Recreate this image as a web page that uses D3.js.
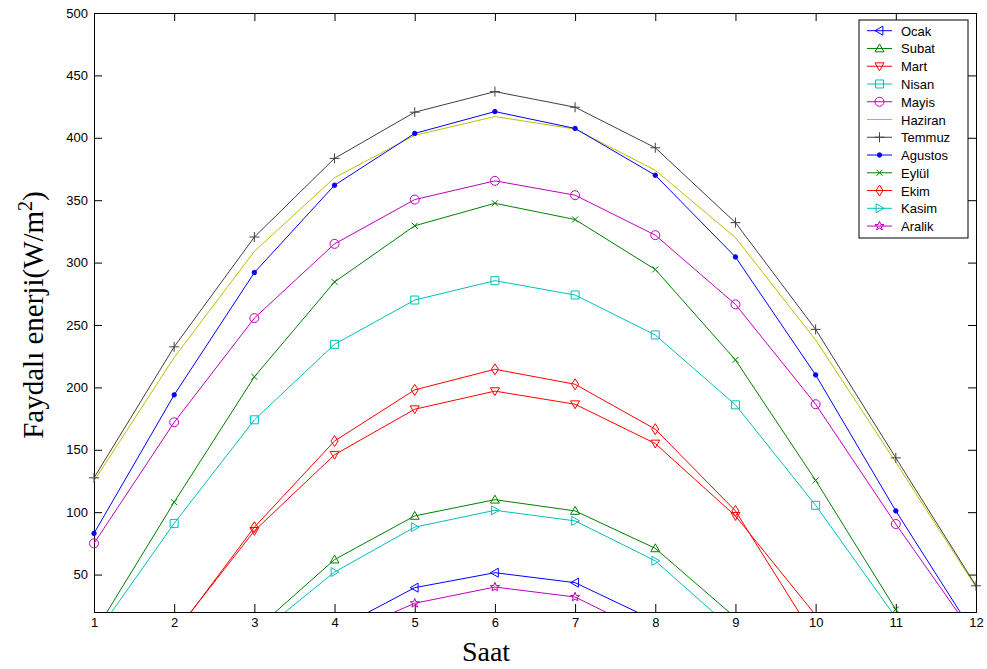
<!DOCTYPE html>
<html>
<head>
<meta charset="utf-8">
<script src="https://cdnjs.cloudflare.com/ajax/libs/d3/7.8.5/d3.min.js"></script>
<style>
  body { margin: 0; background: #fff; }
  svg { display: block; }
  .tick text { font-family: "Liberation Sans", Arial, sans-serif; font-size: 13px; fill: #000; }
</style>
</head>
<body>
<svg id="chart"></svg>
<script>
// 横轴：小时
const hours = [1, 2, 3, 4, 5, 6, 7, 8, 9, 10, 11, 12];
const xTicks = [1, 2, 3, 4, 5, 6, 7, 8, 9, 10, 11, 12];
const yTicks = [50, 100, 150, 200, 250, 300, 350, 400, 450, 500];

// 每个月的数值 (null = 远在坐标轴下方)
const ocak    = [null, null, null, 5.5, 39.5, 51.5, 43.5, 13, null, null, null, null];
const subat   = [null, null, 5, 62, 97, 110, 101, 71, 15.5, null, null, null];
const mart    = [null, 3, 85, 146, 182.5, 197, 186.5, 155, 97, 17.5, null, null];
const nisan   = [0, 91, 174, 234.5, 270, 285.5, 274, 242, 186, 105.5, 15.5, null];
const mayis   = [75, 172, 255.5, 315, 350.5, 365.5, 354, 322, 266.5, 186.5, 90.5, -1];
const haziran = [125, 224, 309, 368, 402, 417, 407, 374, 320, 238, 140, 40];
const temmuz  = [127.5, 232.5, 320.5, 383.5, 420.5, 437, 424.5, 392, 332, 246.5, 143.5, 41];
const agustos = [83, 194, 292, 362, 403.5, 421, 407.5, 370, 304.5, 210, 101, 0];
const eylul   = [3, 108, 208.5, 284.5, 329.5, 347.5, 334.5, 294.5, 222, 125.5, 22, -80];
const ekim    = [null, 2, 88, 157, 198, 214.5, 202.5, 166.5, 101, -1.5, null, null];
const kasim   = [null, null, 0, 52, 88, 101.5, 93, 61, 4, null, null, null];
const aralik  = [null, null, null, -1, 27, 40, 32, 0.5, null, null, null, null];

const monthNames = ["Ocak", "Subat", "Mart", "Nisan", "Mayis", "Haziran",
  "Temmuz", "Agustos", "Eylül", "Ekim", "Kasim", "Aralik"];
const monthValues = [ocak, subat, mart, nisan, mayis, haziran,
  temmuz, agustos, eylul, ekim, kasim, aralik];

// MATLAB 风格颜色与标记
const colors = ["#0000ff", "#008000", "#ff0000", "#00bfbf", "#bf00bf", "#bfbf00",
  "#404040", "#0000ff", "#008000", "#ff0000", "#00bfbf", "#bf00bf"];
const markers = ["tri-left", "tri-up", "tri-down", "square", "circle", "none",
  "plus", "dot", "x", "diamond", "tri-right", "star"];

// 标记路径
function markerPath(type) {
  const s = 4.5;
  switch (type) {
    case "tri-up":    return `M0,${-s}L${s},${s * 0.75}L${-s},${s * 0.75}Z`;
    case "tri-down":  return `M0,${s}L${s},${-s * 0.75}L${-s},${-s * 0.75}Z`;
    case "tri-left":  return `M${-s},0L${s * 0.75},${-s}L${s * 0.75},${s}Z`;
    case "tri-right": return `M${s},0L${-s * 0.75},${-s}L${-s * 0.75},${s}Z`;
    case "square":    return `M-4,-4H4V4H-4Z`;
    case "circle":    return d3.arc()({ innerRadius: 0, outerRadius: 4.5, startAngle: 0, endAngle: 2 * Math.PI });
    case "plus":      return `M-5,0H5M0,-5V5`;
    case "x":         return `M-3,-3L3,3M-3,3L3,-3`;
    case "diamond":   return `M0,-5.5L3.5,0L0,5.5L-3.5,0Z`;
    case "dot":       return d3.arc()({ innerRadius: 0, outerRadius: 2.2, startAngle: 0, endAngle: 2 * Math.PI });
    case "star": {
      let p = "";
      for (let i = 0; i < 10; i++) {
        const r = i % 2 === 0 ? 4.8 : 2;
        const a = -Math.PI / 2 + i * Math.PI / 5;
        p += (i === 0 ? "M" : "L") + (r * Math.cos(a)).toFixed(2) + "," + (r * Math.sin(a)).toFixed(2);
      }
      return p + "Z";
    }
    default: return "";
  }
}

const width = 987, height = 669;
const plotL = 94, plotR = 976, plotT = 13, plotB = 612;

const svg = d3.select("#chart")
  .attr("width", width)
  .attr("height", height);

const x = d3.scaleLinear().domain([1, 12]).range([plotL, plotR]);
const y = d3.scaleLinear().domain([20, 500]).range([plotB, plotT]);

// 裁剪区域
svg.append("clipPath").attr("id", "plotClip")
  .append("rect")
  .attr("x", plotL).attr("y", plotT)
  .attr("width", plotR - plotL).attr("height", plotB - plotT);

// 坐标轴 (刻度朝内, 四边都有)
const tickLen = 8;
svg.append("g")
  .attr("transform", `translate(0,${plotB})`)
  .call(d3.axisBottom(x).tickValues(xTicks).tickSize(-tickLen).tickPadding(6).tickFormat(d3.format("d")));
svg.append("g")
  .attr("transform", `translate(0,${plotT})`)
  .call(d3.axisTop(x).tickValues(xTicks).tickSize(-tickLen).tickFormat(""));
svg.append("g")
  .attr("transform", `translate(${plotL},0)`)
  .call(d3.axisLeft(y).tickValues(yTicks).tickSize(-tickLen).tickPadding(6).tickFormat(d3.format("d")));
svg.append("g")
  .attr("transform", `translate(${plotR},0)`)
  .call(d3.axisRight(y).tickValues(yTicks).tickSize(-tickLen).tickFormat(""));

svg.selectAll(".domain").attr("stroke", "#000");
svg.selectAll(".tick line").attr("stroke", "#000");

// 线条
const line = d3.line()
  .defined(d => d[1] !== null)
  .x(d => x(d[0]))
  .y(d => y(d[1]));

const plot = svg.append("g");

monthValues.forEach((vals, i) => {
  const pts = hours.map((h, j) => [h, vals[j]]);
  plot.append("path")
    .attr("clip-path", "url(#plotClip)")
    .attr("d", line(pts))
    .attr("fill", "none")
    .attr("stroke", colors[i])
    .attr("stroke-width", 1);

  if (markers[i] === "none") return;
  const filled = markers[i] === "dot";
  plot.selectAll(null)
    .data(pts.filter(d => d[1] !== null && d[1] >= 20 && d[1] <= 500))
    .enter()
    .append("path")
    .attr("transform", d => `translate(${x(d[0])},${y(d[1])})`)
    .attr("d", markerPath(markers[i]))
    .attr("fill", filled ? colors[i] : "none")
    .attr("stroke", colors[i])
    .attr("stroke-width", 1);
});

// 图例
const lg = svg.append("g").attr("transform", "translate(859,20)");
lg.append("rect")
  .attr("width", 109).attr("height", 218)
  .attr("fill", "#fff").attr("stroke", "#000");

const items = lg.selectAll("g.item")
  .data(monthNames)
  .enter()
  .append("g")
  .attr("class", "item")
  .attr("transform", (d, i) => `translate(0,${10.7 + i * 17.76})`);

items.append("line")
  .attr("x1", 8).attr("x2", 33)
  .attr("stroke", (d, i) => colors[i]);
items.append("path")
  .attr("transform", "translate(20.5,0)")
  .attr("d", (d, i) => markerPath(markers[i]))
  .attr("fill", (d, i) => markers[i] === "dot" ? colors[i] : "none")
  .attr("stroke", (d, i) => colors[i]);
items.append("text")
  .attr("x", 42).attr("y", 5)
  .attr("font-family", "'Liberation Sans', Arial, sans-serif")
  .attr("font-size", 13)
  .text(d => d);

// 轴标题
svg.append("text")
  .attr("x", 486).attr("y", 661)
  .attr("text-anchor", "middle")
  .attr("font-family", "'Liberation Serif', 'Times New Roman', serif")
  .attr("font-size", 28)
  .text("Saat");

const yl = svg.append("text")
  .attr("transform", "translate(43,315) rotate(-90)")
  .attr("text-anchor", "middle")
  .attr("font-family", "'Liberation Serif', 'Times New Roman', serif")
  .attr("font-size", 29);
yl.append("tspan").text("Faydalı enerji(W/m");
yl.append("tspan").attr("dy", -11).attr("font-size", 20).text("2");
yl.append("tspan").attr("dy", 11).text(")");
</script>
</body>
</html>
